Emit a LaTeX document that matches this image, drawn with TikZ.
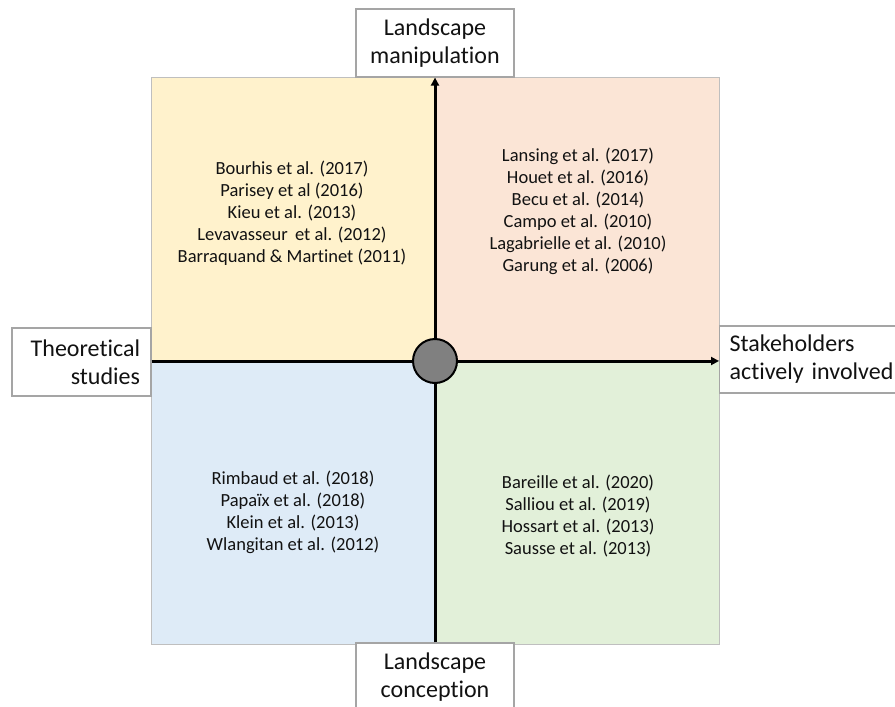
\documentclass[tikz,border=0pt]{standalone}
\usepackage{fontspec}
\setmainfont{Carlito}[Ligatures={NoCommon}]
\usetikzlibrary{arrows.meta}
\definecolor{qyellow}{HTML}{FFF2CC}
\definecolor{qpink}{HTML}{FBE5D6}
\definecolor{qblue}{HTML}{DEEBF7}
\definecolor{qgreen}{HTML}{E2F0D9}
\definecolor{qborder}{HTML}{BFBFBF}
\definecolor{lborder}{HTML}{A5A5A5}
\definecolor{txt}{HTML}{121212}
\definecolor{hub}{HTML}{808080}
\tikzset{
  quad/.style={draw=qborder, line width=0.8pt, minimum width=284pt, minimum height=284pt, inner sep=0pt, anchor=center},
  reflist/.style={align=center, text=txt, font=\fontsize{18.5}{22}\selectfont, inner sep=0pt},
  labelbox/.style={draw=lborder, fill=white, line width=1.2pt, text=txt, font=\fontsize{24}{28}\selectfont, inner ysep=0pt},
  axis/.style={line width=3pt, -{Triangle[length=8pt,width=8pt]}}
}
\begin{document}
\begin{tikzpicture}[x=1pt,y=-1pt]
\useasboundingbox (0,0) rectangle (895,707);
\clip (0,0) rectangle (895,707);
% quadrants
\node[quad, fill=qyellow] (qtl) at (293,219) {};
\node[quad, fill=qpink] (qtr) at (577,219) {};
\node[quad, fill=qblue] (qbl) at (293,502) {};
\node[quad, fill=qgreen] (qbr) at (577,502) {};
% reference lists
\node[reflist] (ltl) at (292,213) {Bourhis et al. (2017)\\Parisey et al (2016)\\Kieu et al. (2013)\\Levavasseur\, et al. (2012)\\Barraquand \& Martinet (2011)};
\node[reflist] (ltr) at (578,211) {Lansing et al. (2017)\\Houet et al. (2016)\\Becu et al. (2014)\\Campo et al. (2010)\\Lagabrielle et al. (2010)\\Garung et al. (2006)};
\node[reflist] (lbl) at (293,512) {Rimbaud et al. (2018)\\Papaïx et al. (2018)\\Klein et al. (2013)\\Wlangitan et al. (2012)};
\node[reflist] (lbr) at (578,516) {Bareille et al. (2020)\\Salliou et al. (2019)\\Hossart et al. (2013)\\Sausse et al. (2013)};
% axis labels
\node[labelbox, minimum width=158pt, minimum height=68pt, align=center] (manip) at (435,43) {Landscape\\manipulation};
\node[labelbox, minimum width=158pt, minimum height=68pt, align=center] (concep) at (435,677) {Landscape\\conception};
\node[labelbox, minimum width=139pt, minimum height=68pt, inner xsep=11pt, text width=117pt, align=right] (theo) at (81.5,362) {Theoretical\\studies};
\node[labelbox, anchor=west, minimum width=190pt, minimum height=67pt, inner xsep=10pt, text width=170pt, align=left] (stake) at (719,359.5) {Stakeholders\\actively involved};
% hub
\coordinate (centre) at (435,361);
\draw[axis] (theo.east |- centre) -- (stake.west |- centre);
\draw[axis] (concep.north) -- (manip.south);
\node[circle, draw=black, line width=2pt, fill=hub, minimum size=44pt, inner sep=0pt] (hubc) at (centre) {};
\end{tikzpicture}
\end{document}
